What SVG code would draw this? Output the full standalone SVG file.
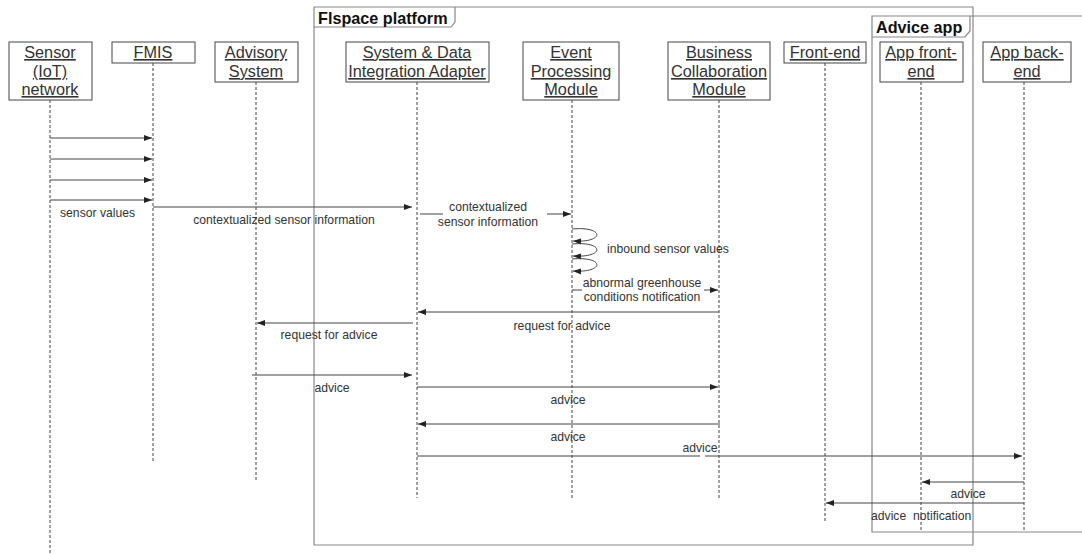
<svg xmlns="http://www.w3.org/2000/svg" width="1082" height="554" viewBox="0 0 1082 554">
<style>
text{font-family:"Liberation Sans",Arial,sans-serif;fill:#333}
.lb{font-size:16.3px;text-decoration:underline;text-anchor:middle}
.m{font-size:12.2px}
.c{text-anchor:middle}
.fr{font-size:16.2px;font-weight:bold;fill:#111}
.box{fill:#fff;stroke:#444;stroke-width:1}
.life{stroke:#444;stroke-width:1;stroke-dasharray:3,2;fill:none}
.msg{stroke:#444;stroke-width:1;fill:none}
.frame{stroke:#888;stroke-width:1.2;fill:none}
</style>
<defs>
<marker id="ah" viewBox="0 0 8 8" refX="8" refY="4" markerWidth="8" markerHeight="8" markerUnits="userSpaceOnUse" orient="auto">
<path d="M0,1 L8,4 L0,7 z" fill="#222"/>
</marker>
</defs>
<rect width="1082" height="554" fill="#fff"/>
<g id="frames">
<g id="flspace-frame">
<path class="frame" d="M314,7 H973 V545 H314 Z"/>
<path class="frame" d="M314,27 H451 L455,22 V7"/>
<text class="fr" x="318" y="24">Flspace platform</text>
</g>
<g id="advice-frame">
<path class="frame" d="M1082,16 H872 V532 H1082"/>
<path class="frame" d="M872,37 H965 L970,31 V16"/>
<text class="fr" x="876" y="33">Advice app</text>
</g>
</g>
<g id="lifelines">
<g id="sensor"><line class="life" x1="50" y1="100" x2="50" y2="554"/><rect class="box" x="9" y="42" width="83" height="58"/><text class="lb" x="50" y="58">Sensor</text><text class="lb" x="50" y="77">(IoT)</text><text class="lb" x="50" y="95">network</text></g>
<g id="fmis"><line class="life" x1="153" y1="63" x2="153" y2="463"/><rect class="box" x="112" y="42" width="83" height="21"/><text class="lb" x="153" y="58">FMIS</text></g>
<g id="advisory"><line class="life" x1="256" y1="82" x2="256" y2="482"/><rect class="box" x="215" y="42" width="83" height="40"/><text class="lb" x="256" y="58">Advisory</text><text class="lb" x="256" y="77">System</text></g>
<g id="sdia"><line class="life" x1="417" y1="82" x2="417" y2="498"/><rect class="box" x="346" y="42" width="143" height="40"/><text class="lb" x="417" y="58">System &amp; Data</text><text class="lb" x="417" y="77">Integration Adapter</text></g>
<g id="epm"><line class="life" x1="572" y1="100" x2="572" y2="500"/><rect class="box" x="523" y="42" width="96" height="58"/><text class="lb" x="571" y="58">Event</text><text class="lb" x="571" y="77">Processing</text><text class="lb" x="571" y="95">Module</text></g>
<g id="bcm"><line class="life" x1="719" y1="100" x2="719" y2="500"/><rect class="box" x="668" y="42" width="102" height="58"/><text class="lb" x="719" y="58">Business</text><text class="lb" x="719" y="77">Collaboration</text><text class="lb" x="719" y="95">Module</text></g>
<g id="frontend"><line class="life" x1="825" y1="63" x2="825" y2="522"/><rect class="box" x="784" y="42" width="82" height="21"/><text class="lb" x="825" y="58">Front-end</text></g>
<g id="appfront"><line class="life" x1="921" y1="82" x2="921" y2="530"/><rect class="box" x="880" y="42" width="83" height="40"/><text class="lb" x="921" y="58">App front-</text><text class="lb" x="921" y="77">end</text></g>
<g id="appback"><line class="life" x1="1024" y1="82" x2="1024" y2="530"/><rect class="box" x="983" y="42" width="88" height="40"/><text class="lb" x="1027" y="58">App back-</text><text class="lb" x="1027" y="77">end</text></g>
</g>
<g id="connectors">
<line class="msg" x1="50" y1="138" x2="152" y2="138" marker-end="url(#ah)"/>
<line class="msg" x1="50" y1="159" x2="152" y2="159" marker-end="url(#ah)"/>
<line class="msg" x1="50" y1="180" x2="152" y2="180" marker-end="url(#ah)"/>
<line class="msg" x1="50" y1="200" x2="152" y2="200" marker-end="url(#ah)"/>
<line class="msg" x1="153" y1="207" x2="412" y2="207" marker-end="url(#ah)"/>
<line class="msg" x1="420" y1="214" x2="443" y2="214"/>
<line class="msg" x1="547" y1="214" x2="571" y2="214" marker-end="url(#ah)"/>
<path class="msg" d="M572,229 C605,226 605,243 573,241" marker-end="url(#ah)"/>
<path class="msg" d="M572,244 C605,241 605,258 573,256" marker-end="url(#ah)"/>
<path class="msg" d="M572,259 C605,256 605,273 573,271" marker-end="url(#ah)"/>
<line class="msg" x1="572" y1="290" x2="582" y2="290"/>
<line class="msg" x1="704" y1="290" x2="718" y2="290" marker-end="url(#ah)"/>
<line class="msg" x1="719" y1="312" x2="418" y2="312" marker-end="url(#ah)"/>
<line class="msg" x1="413" y1="323" x2="257" y2="323" marker-end="url(#ah)"/>
<line class="msg" x1="252" y1="375" x2="412" y2="375" marker-end="url(#ah)"/>
<line class="msg" x1="417" y1="387" x2="718" y2="387" marker-end="url(#ah)"/>
<line class="msg" x1="720" y1="424" x2="418" y2="424" marker-end="url(#ah)"/>
<line class="msg" x1="417" y1="456" x2="700" y2="456"/>
<line class="msg" x1="705" y1="456" x2="1022" y2="456" marker-end="url(#ah)"/>
<line class="msg" x1="1024" y1="482" x2="922" y2="482" marker-end="url(#ah)"/>
<line class="msg" x1="1024" y1="503" x2="826" y2="503" marker-end="url(#ah)"/>
</g>
<g id="labels">
<text class="m" x="60" y="217">sensor values</text>
<text class="m c" x="284" y="224">contextualized sensor information</text>
<text class="m c" x="488" y="211">contextualized</text>
<text class="m c" x="488" y="226">sensor information</text>
<text class="m" x="607" y="253">inbound sensor values</text>
<text class="m c" x="642" y="287">abnormal greenhouse</text>
<text class="m c" x="642" y="301">conditions notification</text>
<text class="m c" x="562" y="330">request for advice</text>
<text class="m c" x="329" y="339">request for advice</text>
<text class="m c" x="332" y="392">advice</text>
<text class="m c" x="568" y="404">advice</text>
<text class="m c" x="568" y="441">advice</text>
<text class="m c" x="700" y="452">advice</text>
<text class="m c" x="968" y="498">advice</text>
<text class="m" x="871" y="520">advice<tspan x="913">notification</tspan></text>
</g>
</svg>
